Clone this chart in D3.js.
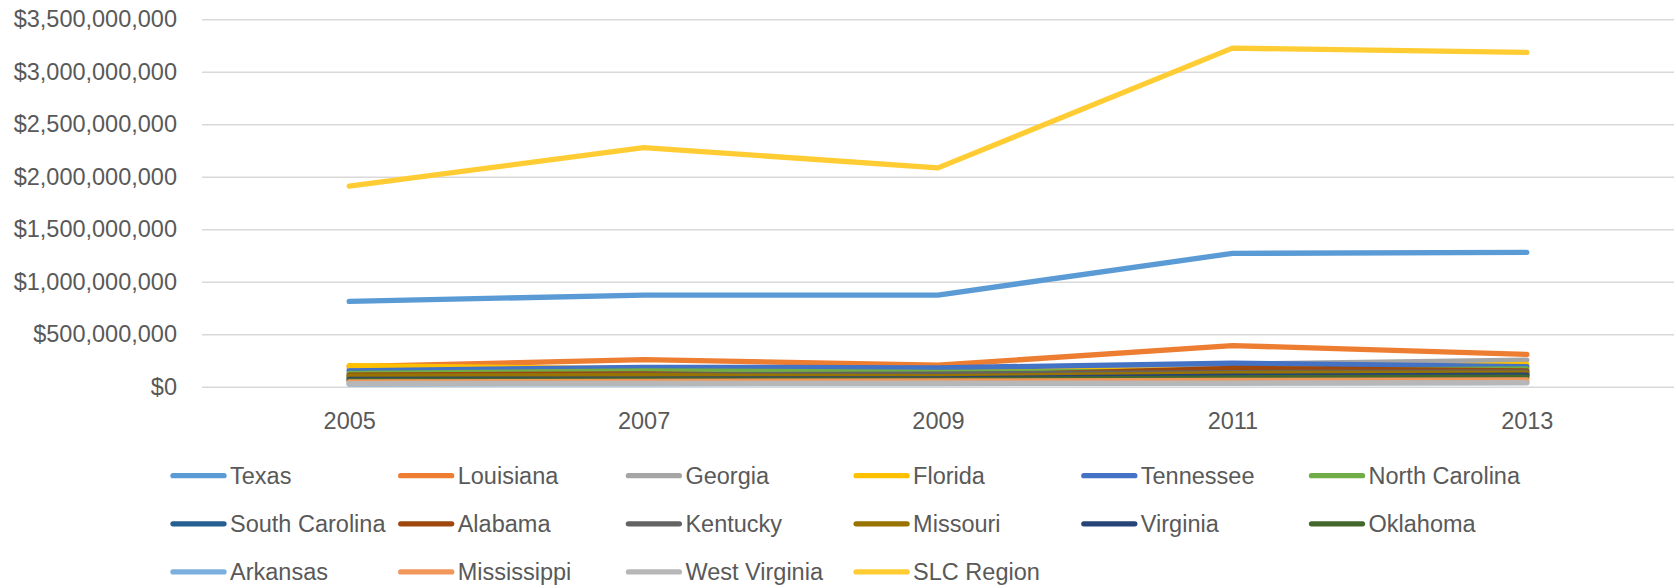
<!DOCTYPE html>
<html>
<head>
<meta charset="utf-8">
<script src="https://cdn.jsdelivr.net/npm/d3@7"></script>
<style>
	html, body { margin: 0; padding: 0; background: #fff; }
	svg text { font-family: 'Liberation Sans', Arial, sans-serif; fill: #595959; }
</style>
</head>
<body>
<div class="graphic__chart"></div>
<script>
const years = ['2005', '2007', '2009', '2011', '2013']
const yTicks = [0, 500e6, 1000e6, 1500e6, 2000e6, 2500e6, 3000e6, 3500e6]

// values in millions of dollars
const texas = [812, 873, 873, 1270, 1280]
const louisiana = [190, 258, 205, 392, 308]
const georgia = [165, 175, 170, 215, 254]
const florida = [200, 170, 150, 160, 213]
const tennessee = [150, 185, 180, 225, 190]
const northCarolina = [127, 150, 137, 150, 170]
const southCarolina = [80, 85, 85, 110, 115]
const alabama = [111, 121, 95, 175, 150]
const kentucky = [95, 110, 120, 135, 140]
const missouri = [100, 105, 95, 125, 130]
const virginia = [70, 72, 75, 100, 110]
const oklahoma = [60, 65, 65, 85, 90]
const arkansas = [25, 28, 30, 35, 40]
const mississippi = [45, 50, 55, 60, 65]
const westVirginia = [30, 32, 33, 35, 38]
const slcRegion = [1911, 2278, 2085, 3225, 3184]

const seriesNames = ['Texas', 'Louisiana', 'Georgia', 'Florida', 'Tennessee', 'North Carolina',
	'South Carolina', 'Alabama', 'Kentucky', 'Missouri', 'Virginia', 'Oklahoma',
	'Arkansas', 'Mississippi', 'West Virginia', 'SLC Region']
const seriesValues = [texas, louisiana, georgia, florida, tennessee, northCarolina,
	southCarolina, alabama, kentucky, missouri, virginia, oklahoma,
	arkansas, mississippi, westVirginia, slcRegion]
const colors = ['#5b9bd5', '#ed7d31', '#a5a5a5', '#ffc000', '#4472c4', '#70ad47',
	'#255e91', '#9e480e', '#636363', '#997300', '#264478', '#43682b',
	'#7cafdd', '#f1975a', '#b7b7b7', '#ffcd33']

const width = 1676
const height = 588
const plot = { left: 202, right: 1674, top: 19.3, bottom: 386.7 }
const scale = { x: null, y: null }

const svg = d3.select('.graphic__chart').append('svg')
	.attr('width', width)
	.attr('height', height)

scale.x = d3.scalePoint()
	.domain(years)
	.range([plot.left, plot.right])
	.padding(0.5)

scale.y = d3.scaleLinear()
	.domain([0, 3500e6])
	.range([plot.bottom, plot.top])

const fmt = d3.format('$,')

// grid + y labels
const yAxis = svg.append('g')
	.attr('class', 'axis axis--y')
	.attr('transform', `translate(${plot.left},0)`)
	.call(d3.axisLeft(scale.y).tickValues(yTicks).tickFormat(fmt)
		.tickSize(-(plot.right - plot.left)).tickPadding(25))

yAxis.select('.domain').remove()
yAxis.selectAll('line')
	.attr('stroke', '#d9d9d9')
	.attr('stroke-width', 1.5)
yAxis.selectAll('text')
	.style('font-size', '23.5px')

// x labels
const xAxis = svg.append('g')
	.attr('class', 'axis axis--x')
	.attr('transform', `translate(0,${plot.bottom})`)
	.call(d3.axisBottom(scale.x).tickSize(0).tickPadding(26))

xAxis.select('.domain').remove()
xAxis.selectAll('text')
	.style('font-size', '23.5px')

// lines
const data = seriesNames.map((name, i) => ({
	name,
	color: colors[i],
	values: seriesValues[i].map((v, j) => ({ year: years[j], value: v * 1e6 })),
}))

const line = d3.line()
	.x(d => scale.x(d.year))
	.y(d => scale.y(d.value))

svg.append('g')
	.attr('class', 'lines')
	.selectAll('path')
	.data(data)
	.enter().append('path')
		.attr('d', d => line(d.values))
		.attr('fill', 'none')
		.attr('stroke', d => d.color)
		.attr('stroke-width', 5.3)
		.attr('stroke-linecap', 'round')
		.attr('stroke-linejoin', 'round')

// legend
const legend = svg.append('g').attr('class', 'legend')
const item = legend.selectAll('g')
	.data(data)
	.enter().append('g')
		.attr('transform', (d, i) => `translate(${173 + (i % 6) * 227.7},${475.7 + Math.floor(i / 6) * 48.1})`)

item.append('line')
	.attr('x1', 0)
	.attr('x2', 51)
	.attr('stroke', d => d.color)
	.attr('stroke-width', 5.3)
	.attr('stroke-linecap', 'round')

item.append('text')
	.attr('x', 57)
	.attr('dy', '0.35em')
	.style('font-size', '23.5px')
	.text(d => d.name)
</script>
</body>
</html>
